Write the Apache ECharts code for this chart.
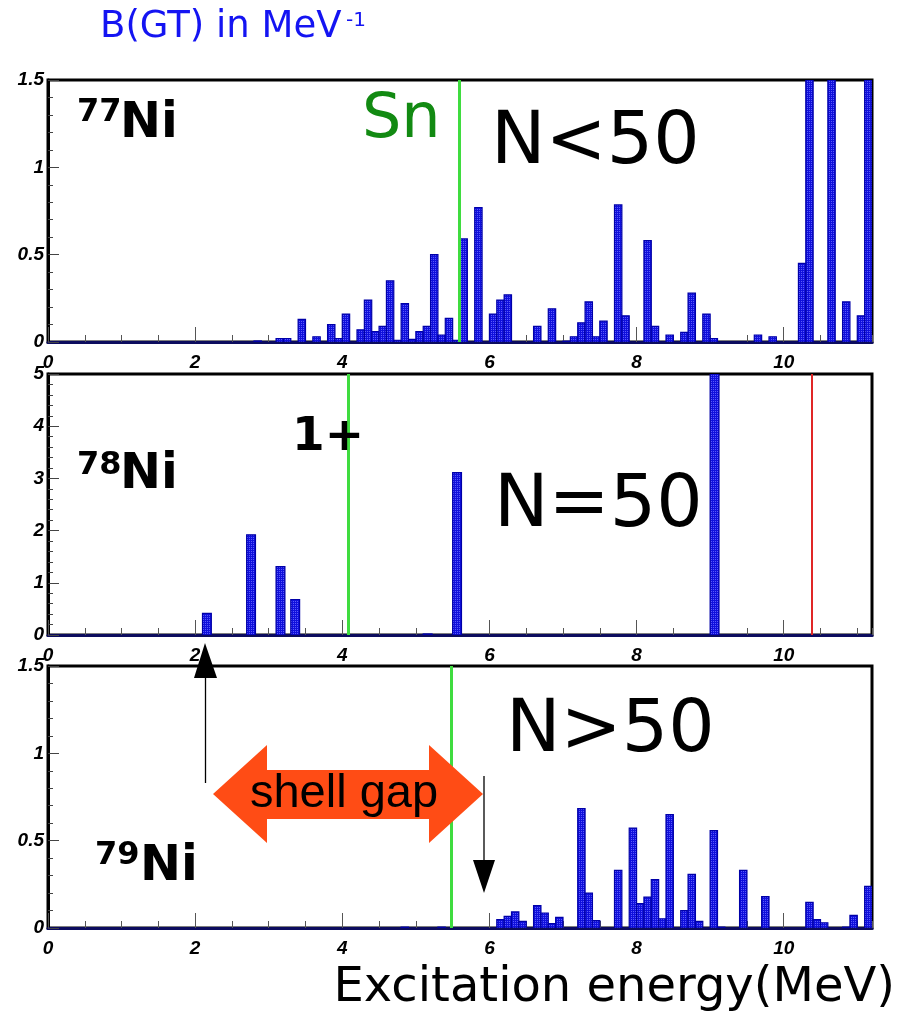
<!DOCTYPE html>
<html>
<head>
<meta charset="utf-8">
<script src="https://cdn.jsdelivr.net/npm/echarts@6/dist/echarts.min.js"></script>
<style>
html,body{margin:0;padding:0;background:#ffffff;}
#chart{width:910px;height:1017px;}
</style>
</head>
<body>
<div id="chart"></div>
<script>
// ---------------- data (MeV, B(GT) in MeV^-1) ----------------
const panelNames = ['77Ni', '78Ni', '79Ni'];
const regimeLabels = ['N<50', 'N=50', 'N>50'];

const ni77Energy = [2.8,3.1,3.2,3.4,3.6,3.8,3.9,4.0,4.2,4.3,4.4,4.5,4.6,4.7,4.8,4.9,5.0,5.1,5.2,5.3,5.4,5.5,5.6,5.8,6.0,6.1,6.2,6.6,6.8,7.0,7.1,7.2,7.3,7.4,7.5,7.7,7.8,8.1,8.2,8.4,8.6,8.7,8.9,9.0,9.6,9.8,10.2,10.3,10.6,10.8,11.0,11.1];
const ni77BGT    = [0.006,0.02,0.02,0.13,0.03,0.10,0.02,0.16,0.07,0.24,0.06,0.09,0.35,0.01,0.22,0.015,0.06,0.09,0.50,0.04,0.135,0.01,0.59,0.77,0.16,0.24,0.27,0.09,0.19,0.005,0.03,0.11,0.23,0.03,0.12,0.785,0.15,0.58,0.09,0.04,0.055,0.28,0.16,0.02,0.04,0.03,0.45,2.0,2.0,0.23,0.15,2.0];

const ni78Energy = [2.1,2.7,3.1,3.3,5.1,5.5,9.0];
const ni78BGT    = [0.415,1.92,1.31,0.68,0.02,3.11,5.5];

const ni79Energy = [4.8,5.3,6.1,6.2,6.3,6.4,6.6,6.7,6.8,6.9,7.2,7.3,7.4,7.7,7.9,8.0,8.1,8.2,8.3,8.4,8.6,8.7,8.8,9.0,9.1,9.4,9.7,10.3,10.4,10.5,10.8,10.9,11.1];
const ni79BGT    = [0.005,0.005,0.048,0.067,0.092,0.038,0.128,0.086,0.025,0.061,0.683,0.2,0.042,0.33,0.572,0.14,0.177,0.277,0.053,0.649,0.1,0.307,0.038,0.557,0.005,0.33,0.18,0.147,0.048,0.03,0.005,0.072,0.238];

const binWidth = [0.1, 0.12, 0.1];          // histogram bin width (MeV)
const snEnergy = [5.59, 4.08, 5.48];        // neutron separation energy (green lines)
const qEnergy78 = 10.38;                    // red line in the 78Ni panel
const yMax = [1.5, 5, 1.5];
const yStep = [0.5, 1, 0.5];
const xMax = 11.2;
const xStep = 2;
const xMinorStep = 0.5;

const energies = [ni77Energy, ni78Energy, ni79Energy];
const strengths = [ni77BGT, ni78BGT, ni79BGT];

// ---------------- styling ----------------
const gridTops = [80, 374, 666];
const gridHeights = [262, 261, 262];

const pc = document.createElement('canvas');
pc.width = 2; pc.height = 2;
const pctx = pc.getContext('2d');
pctx.fillStyle = '#1010dc'; pctx.fillRect(0, 0, 2, 2);
pctx.fillStyle = '#5a5afa'; pctx.fillRect(1, 1, 1, 1);
const barPattern = { image: pc, repeat: 'repeat' };

const tickFont = { fontFamily: '"Liberation Sans Narrow", "Liberation Sans"', fontWeight: 'bold', fontStyle: 'italic', fontSize: 19, color: '#000' };

const grids = [], xAxes = [], yAxes = [], series = [];
for (let i = 0; i < 3; i++) {
  grids.push({ show: true, left: 48, right: 38, top: gridTops[i], height: gridHeights[i],
               borderColor: '#000', borderWidth: 3, backgroundColor: 'transparent' });
  // major x axis
  xAxes.push({ gridIndex: i, type: 'value', min: 0, max: xMax, interval: xStep, position: 'bottom',
    axisLine: { show: true, onZero: false, lineStyle: { color: '#0c0c5e', width: 3 } },
    axisTick: { show: true, inside: true, length: 15, lineStyle: { color: '#555', width: 1 } },
    axisLabel: Object.assign({ show: true, margin: 11, showMaxLabel: false }, tickFont),
    splitLine: { show: false } });
  // minor x axis (0.5 MeV ticks)
  xAxes.push({ gridIndex: i, type: 'value', min: 0, max: xMax, interval: xMinorStep, position: 'bottom',
    axisLine: { show: false },
    axisTick: { show: true, inside: true, length: 7, lineStyle: { color: '#555', width: 1 } },
    axisLabel: { show: false }, splitLine: { show: false } });
  yAxes.push({ gridIndex: i, type: 'value', min: 0, max: yMax[i], interval: yStep[i],
    axisLine: { show: true, onZero: false, lineStyle: { color: '#000', width: 3 } },
    axisTick: { show: true, inside: true, length: 11, lineStyle: { color: '#444', width: 1 } },
    minorTick: { show: true, splitNumber: 5, length: 5, lineStyle: { color: '#444', width: 1 } },
    axisLabel: Object.assign({ margin: 4 }, tickFont),
    splitLine: { show: false } });

  const w = binWidth[i];
  const cap = yMax[i];
  series.push({
    type: 'custom', xAxisIndex: 2 * i, yAxisIndex: i, clip: true, z: 3,
    data: energies[i].map((e, k) => [e, strengths[i][k]]),
    encode: { x: 0, y: 1 },
    renderItem: function (params, api) {
      const e = api.value(0);
      const v = Math.min(api.value(1), cap);
      const p0 = api.coord([e, 0]);
      const p1 = api.coord([e + w, v]);
      return { type: 'rect',
        shape: { x: p0[0], y: p1[1], width: p1[0] - p0[0], height: p0[1] - p1[1] },
        style: { fill: barPattern, stroke: '#0000a8', lineWidth: 1.2 } };
    }
  });

  const lines = [{ xAxis: snEnergy[i], lineStyle: { color: '#3fdc3f', width: 3 } }];
  if (i === 1) lines.push({ xAxis: qEnergy78, lineStyle: { color: '#e02626', width: 2 } });
  series.push({
    type: 'line', xAxisIndex: 2 * i, yAxisIndex: i, data: [], z: 4,
    markLine: { silent: true, symbol: ['none', 'none'], label: { show: false },
      lineStyle: { type: 'solid' }, data: lines, animation: false }
  });
}

// ---------------- annotations ----------------
function txt(text, x, y, font, fill, align) {
  return { type: 'text', z: 100, style: { text: text, x: x, y: y, font: font, fill: fill || '#000',
    textAlign: align || 'left', textVerticalAlign: 'middle' } };
}
const sans = '"DejaVu Sans"';
const graphics = [
  txt('B(GT) in MeV', 100, 27, '37px ' + sans, '#1414f2'),
  txt('-1', 346, 21, '20px ' + sans, '#1414f2'),
  txt('Sn', 362, 121, '62px ' + sans, '#128a12'),
  txt(regimeLabels[0], 491, 144, '73px ' + sans),
  txt(regimeLabels[1], 494, 507, '73px ' + sans),
  txt(regimeLabels[2], 506, 732, '73px ' + sans),
  txt('77', 77, 113, 'bold 32px ' + sans),
  txt('Ni', 120, 124, 'bold 49px ' + sans),
  txt('78', 77, 466, 'bold 32px ' + sans),
  txt('Ni', 120, 475, 'bold 49px ' + sans),
  txt('79', 95, 856, 'bold 32px ' + sans),
  txt('Ni', 140, 867, 'bold 49px ' + sans),
  txt('1+', 292, 438, 'bold 47px ' + sans),
  // shell-gap double arrow
  { type: 'polygon', z: 90, shape: { points: [[213,794],[267,745],[267,770],[429,770],[429,745],[483,794],[429,843],[429,819],[267,819],[267,843]] },
    style: { fill: '#ff4c15' } },
  txt('shell gap', 344, 794, '47px "Liberation Sans"', '#000', 'center'),
  // black arrows
  { type: 'line', z: 100, shape: { x1: 205.5, y1: 783, x2: 205.5, y2: 676 }, style: { stroke: '#000', lineWidth: 1.3 } },
  { type: 'polygon', z: 100, shape: { points: [[205,643],[194,678],[217,678]] }, style: { fill: '#000' } },
  { type: 'line', z: 100, shape: { x1: 484, y1: 776, x2: 484, y2: 862 }, style: { stroke: '#000', lineWidth: 1.3 } },
  { type: 'polygon', z: 100, shape: { points: [[473,860],[495,860],[484,893]] }, style: { fill: '#000' } },
  txt('Excitation energy(MeV)', 895, 989, '48px ' + sans, '#000', 'right')
];

const chart = echarts.init(document.getElementById('chart'), null, { renderer: 'canvas' });
chart.setOption({
  animation: false,
  backgroundColor: '#ffffff',
  grid: grids,
  xAxis: xAxes,
  yAxis: yAxes,
  series: series,
  graphic: { elements: graphics }
});
</script>
</body>
</html>
